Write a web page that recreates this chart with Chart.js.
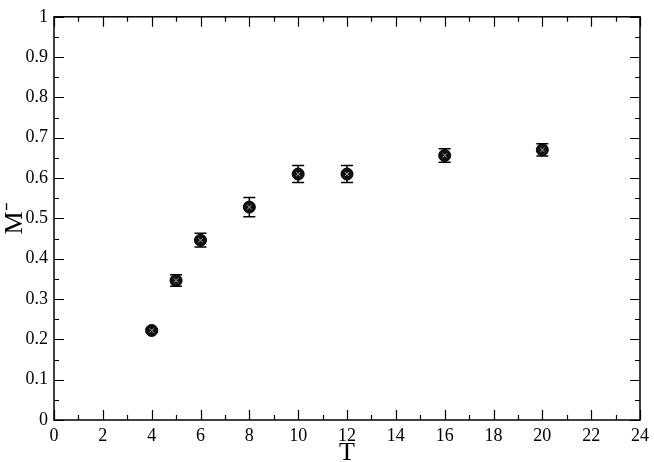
<!DOCTYPE html>
<html>
<head>
<meta charset="utf-8">
<script src="https://cdn.jsdelivr.net/npm/chart.js@4/dist/chart.umd.min.js"></script>
<style>
html,body{margin:0;padding:0;background:#fff;}
#wrap{width:654px;height:462px;}
</style>
</head>
<body>
<div id="wrap"><canvas id="c" width="654" height="462"></canvas></div>
<script>
const T = [4, 5, 6, 8, 10, 12, 16, 20];
const M = [0.222, 0.346, 0.446, 0.528, 0.610, 0.610, 0.656, 0.670];
const ERR = [0.004, 0.0145, 0.017, 0.024, 0.021, 0.021, 0.017, 0.015];
const X_MIN = 0, X_MAX = 24, X_STEP = 2, X_MINOR = 1;
const Y_MIN = 0, Y_MAX = 1, Y_STEP = 0.1, Y_MINOR = 0.05;
const SERIF = "'Liberation Serif', 'Times New Roman', Times, serif";

const pts = T.map((t, i) => ({x: t, y: M[i]}));

const errorBars = {
  id: 'errorBars',
  beforeDatasetsDraw(chart) {
    const ctx = chart.ctx, xs = chart.scales.x, ys = chart.scales.y;
    ctx.save();
    ctx.strokeStyle = '#000';
    ctx.lineWidth = 1.5;
    T.forEach((t, i) => {
      const px = xs.getPixelForValue(t);
      const y1 = ys.getPixelForValue(M[i] - ERR[i]);
      const y2 = ys.getPixelForValue(M[i] + ERR[i]);
      ctx.beginPath();
      ctx.moveTo(px, y1); ctx.lineTo(px, y2);
      ctx.moveTo(px - 6, y1); ctx.lineTo(px + 6, y1);
      ctx.moveTo(px - 6, y2); ctx.lineTo(px + 6, y2);
      ctx.stroke();
    });
    ctx.restore();
  }
};

const frameTicks = {
  id: 'frameTicks',
  afterDraw(chart) {
    const ctx = chart.ctx, a = chart.chartArea, xs = chart.scales.x, ys = chart.scales.y;
    ctx.save();
    ctx.strokeStyle = '#000';
    ctx.lineWidth = 1.5;
    ctx.strokeRect(a.left, a.top, a.right - a.left, a.bottom - a.top);
    ctx.lineWidth = 1.2;
    ctx.beginPath();
    for (let v = X_MIN; v <= X_MAX + 1e-9; v += X_MINOR) {
      const px = Math.round(xs.getPixelForValue(v)) + 0.5;
      const major = Math.abs(v / X_STEP - Math.round(v / X_STEP)) < 1e-6;
      const len = major ? 10 : 5;
      ctx.moveTo(px, a.bottom); ctx.lineTo(px, a.bottom - len);
      ctx.moveTo(px, a.top); ctx.lineTo(px, a.top + len);
    }
    for (let v = Y_MIN; v <= Y_MAX + 1e-9; v += Y_MINOR) {
      const py = Math.round(ys.getPixelForValue(v)) + 0.5;
      const major = Math.abs(v / Y_STEP - Math.round(v / Y_STEP)) < 1e-6;
      const len = major ? 10 : 5;
      ctx.moveTo(a.left, py); ctx.lineTo(a.left + len, py);
      ctx.moveTo(a.right, py); ctx.lineTo(a.right - len, py);
    }
    ctx.stroke();
    ctx.restore();
  }
};

new Chart(document.getElementById('c'), {
  type: 'scatter',
  data: {
    datasets: [
      {
        data: pts,
        order: 1,
        pointStyle: 'circle',
        pointRadius: 6,
        pointBackgroundColor: '#111',
        pointBorderColor: '#000',
        pointBorderWidth: 1,
        pointHoverRadius: 6
      },
      {
        data: pts,
        order: 0,
        pointStyle: 'crossRot',
        pointRadius: 3,
        pointBorderColor: '#a8a8a8',
        pointBorderWidth: 1,
        pointHoverRadius: 3
      }
    ]
  },
  options: {
    responsive: false,
    animation: false,
    events: [],
    layout: {padding: {top: 7, right: 10, left: 0, bottom: 0}},
    plugins: {legend: {display: false}, tooltip: {enabled: false}},
    scales: {
      x: {
        type: 'linear', min: X_MIN, max: X_MAX,
        grid: {display: false, drawTicks: false},
        border: {display: false},
        ticks: {stepSize: X_STEP, color: '#000', padding: 5,
                font: {family: SERIF, size: 18}},
        title: {display: true, text: 'T', color: '#000', padding: {top: 0, bottom: -7},
                font: {family: SERIF, size: 26}},
        afterFit(s) { s.height = 42; }
      },
      y: {
        type: 'linear', min: Y_MIN, max: Y_MAX,
        grid: {display: false, drawTicks: false},
        border: {display: false},
        ticks: {stepSize: Y_STEP, color: '#000', padding: 6,
                font: {family: SERIF, size: 18},
                callback: v => String(Math.round(v * 10) / 10)},
        title: {display: true, text: 'M\u207B', color: '#000', padding: {top: 0, bottom: 0},
                font: {family: SERIF, size: 26}},
        afterFit(s) { s.width = 54; }
      }
    }
  },
  plugins: [errorBars, frameTicks]
});
</script>
</body>
</html>
